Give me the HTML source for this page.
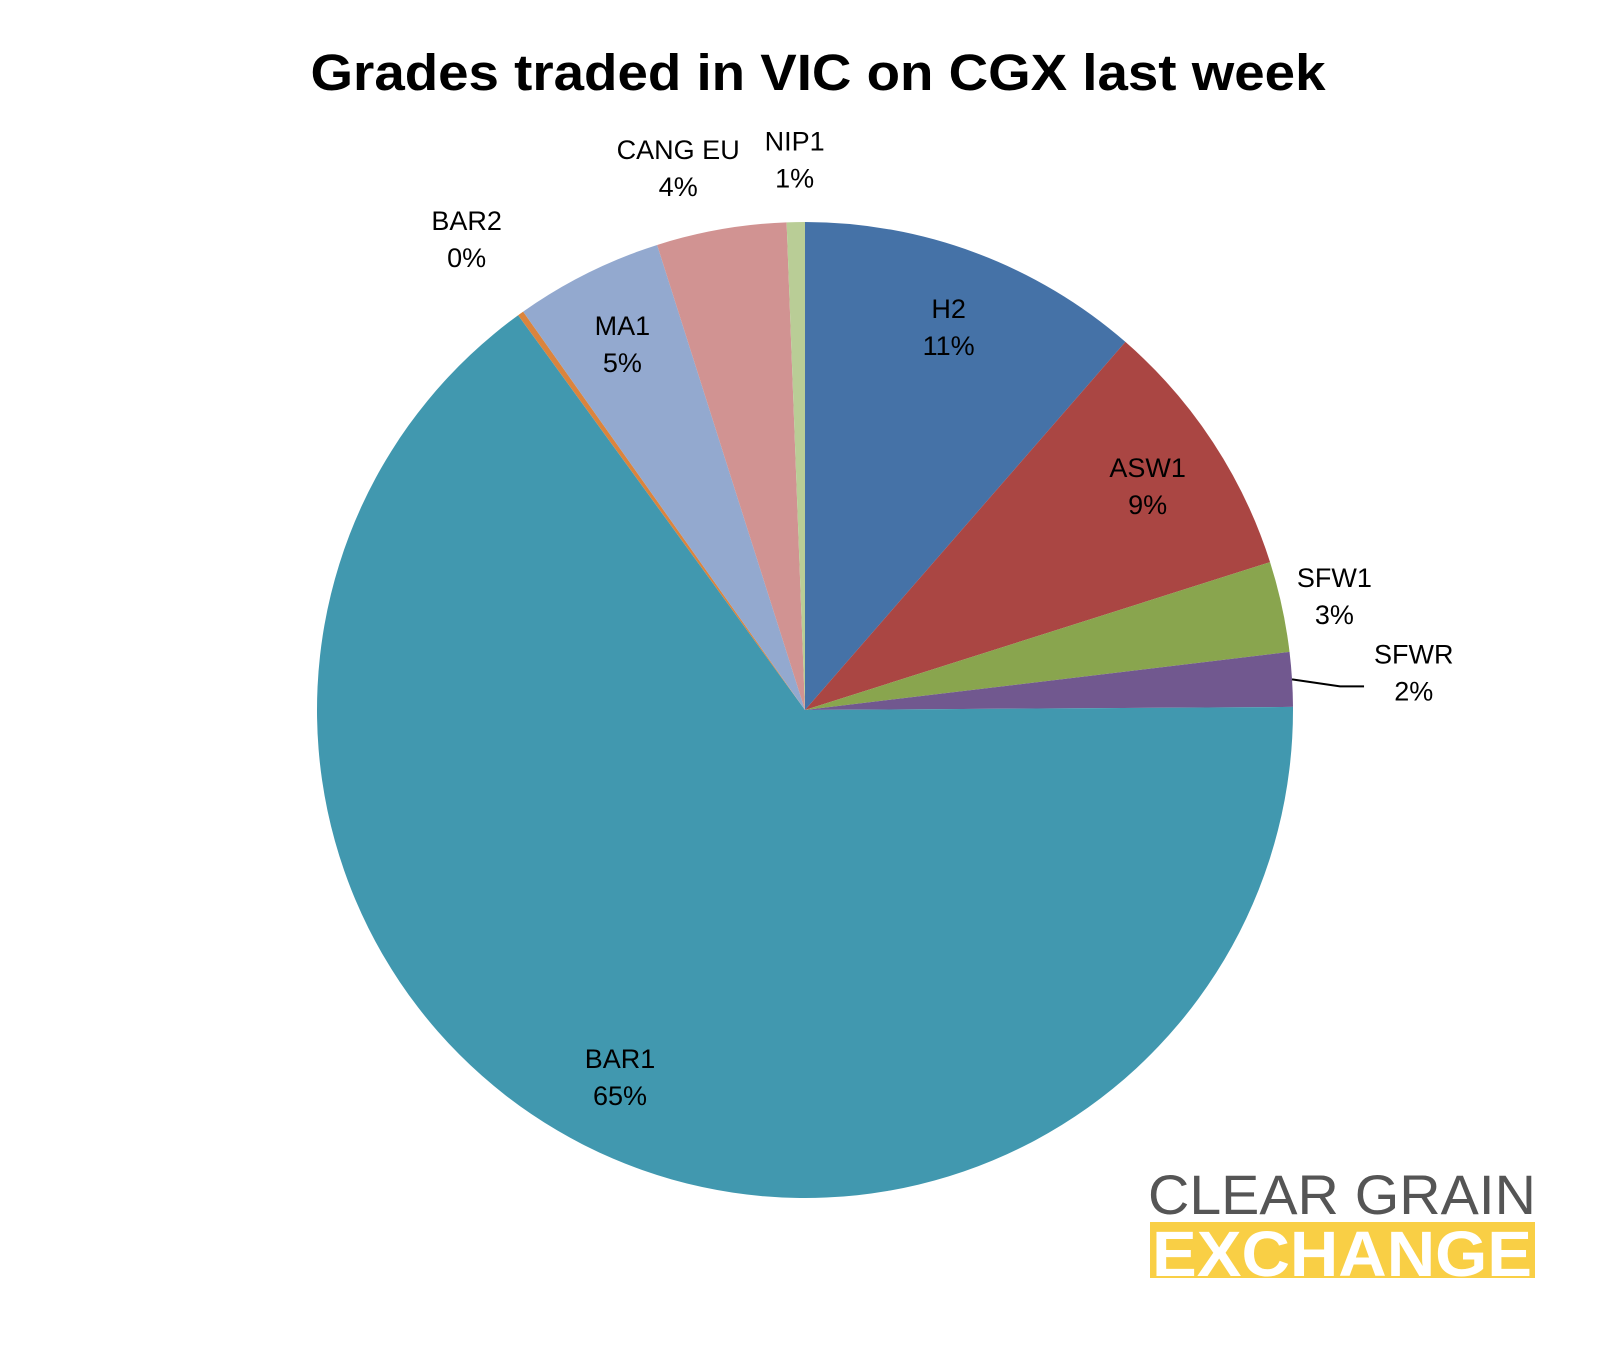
<!DOCTYPE html>
<html><head><meta charset="utf-8"><style>
html,body{margin:0;padding:0;background:#fff;}
svg{display:block;font-family:"Liberation Sans",sans-serif;}
</style></head><body>
<svg id="chart" width="1609" height="1350">
<text x="818" y="90" text-anchor="middle" font-size="51" font-weight="bold" fill="#000" textLength="1015" lengthAdjust="spacingAndGlyphs">Grades traded in VIC on CGX last week</text>
<g id="slices"></g>
<g id="labels"></g>
<g>
<text x="1148" y="1214" font-size="56" fill="#555" textLength="388" lengthAdjust="spacingAndGlyphs">CLEAR GRAIN</text>
<rect x="1150" y="1222" width="385" height="56" fill="#f9cf45"/>
<text x="1152" y="1276" font-size="64" font-weight="bold" fill="#fff" textLength="380" lengthAdjust="spacingAndGlyphs">EXCHANGE</text>
</g>
</svg>
<script>
const categories=["H2","ASW1","SFW1","SFWR","BAR1","BAR2","MA1","CANG EU","NIP1"];
const values=[11.4,8.7,3.0,1.8,65.1,0.2,4.9,4.3,0.6];
const printed=["11%","9%","3%","2%","65%","0%","5%","4%","1%"];
const colors=["#4572a7","#aa4643","#89a54e","#71588f","#4198af","#db843d","#93a9cf","#d19392","#b9cd96"];
const ns="http://www.w3.org/2000/svg";
const cx=805,cy=710,R=488;
const total=values.reduce((a,b)=>a+b,0);
function pt(a,r){return [cx+r*Math.sin(a),cy-r*Math.cos(a)];}
const sl=document.getElementById('slices'),lb=document.getElementById('labels');
let acc=0;
values.forEach((v,i)=>{
 const a0=acc/total*2*Math.PI; acc+=v; const a1=acc/total*2*Math.PI;
 const p0=pt(a0,R),p1=pt(a1,R);
 const p=document.createElementNS(ns,'path');
 p.setAttribute('d',`M${cx},${cy}L${p0[0]},${p0[1]}A${R},${R} 0 ${a1-a0>Math.PI?1:0} 1 ${p1[0]},${p1[1]}Z`);
 p.setAttribute('fill',colors[i]);
 
 
 sl.appendChild(p);
 const am=(a0+a1)/2;
 const inside=v>=4.5;
 let r=inside?R*0.84:R*1.11;
 if(categories[i]==="SFWR") r=R*1.25;
 if(categories[i]==="NIP1"||categories[i]==="CANG EU") r=R*1.13;
 if(categories[i]==="BAR2") r=R*1.19;
 let c=pt(am,r);
 if(categories[i]==="CANG EU") c[0]-=32;
 if(categories[i]==="SFWR"){
  const e=pt(am,R);
  const l=document.createElementNS(ns,'path');
  l.setAttribute('d',`M${e[0]},${e[1]}L${e[0]+48},${e[1]+7}L${e[0]+72},${e[1]+7}`);
  l.setAttribute('stroke','#000');l.setAttribute('stroke-width','2');l.setAttribute('fill','none');
  
  
  lb.appendChild(l);
 }
 const t=document.createElementNS(ns,'text');
 t.setAttribute('text-anchor','middle');t.setAttribute('font-size','27');t.setAttribute('fill','#000');
 t.setAttribute('x',c[0]);t.setAttribute('y',c[1]-8);
 
 
 const s1=document.createElementNS(ns,'tspan');s1.setAttribute('x',c[0]);s1.textContent=categories[i];
 const s2=document.createElementNS(ns,'tspan');s2.setAttribute('x',c[0]);s2.setAttribute('dy','37');s2.textContent=printed[i];
 t.appendChild(s1);t.appendChild(s2);lb.appendChild(t);
});
</script>
</body></html>
